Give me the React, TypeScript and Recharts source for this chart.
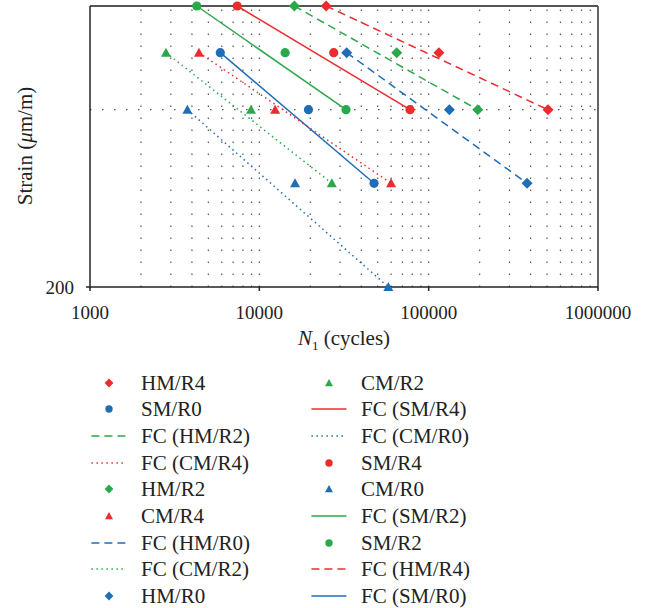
import React from "react";
import { ComposedChart, Scatter, Line, XAxis, YAxis, ReferenceLine } from "recharts";

if (typeof document !== "undefined") document.body.style.margin = "0";

const RED = "#ec2b2e";
const GREEN = "#2ba84a";
const BLUE = "#1f6db5";
const FONT = "'Liberation Serif', 'Times New Roman', serif";

// x ticks / y ticks
const cycleTicks = [1000, 10000, 100000, 1000000];
const strainTicks = [200];
const gridCycles = [
  2000, 3000, 4000, 5000, 6000, 7000, 8000, 9000, 10000,
  20000, 30000, 40000, 50000, 60000, 70000, 80000, 90000, 100000,
  200000, 300000, 400000, 500000, 600000, 700000, 800000, 900000,
];

// measured points (N1 cycles, strain)
const hmR4 = [{ n: 24800, s: 600 }, { n: 115000, s: 500 }, { n: 507000, s: 400 }];
const hmR2 = [{ n: 16100, s: 600 }, { n: 64800, s: 500 }, { n: 195000, s: 400 }];
const hmR0 = [{ n: 32800, s: 500 }, { n: 132500, s: 400 }, { n: 381000, s: 300 }];
const smR4 = [{ n: 7400, s: 600 }, { n: 27500, s: 500 }, { n: 77600, s: 400 }];
const smR2 = [{ n: 4270, s: 600 }, { n: 14200, s: 500 }, { n: 32500, s: 400 }];
const smR0 = [{ n: 5880, s: 500 }, { n: 19500, s: 400 }, { n: 47600, s: 300 }];
const cmR4 = [{ n: 4400, s: 500 }, { n: 12400, s: 400 }, { n: 60000, s: 300 }];
const cmR2 = [{ n: 2810, s: 500 }, { n: 8930, s: 400 }, { n: 26800, s: 300 }];
const cmR0 = [{ n: 3760, s: 400 }, { n: 16250, s: 300 }, { n: 57800, s: 200 }];

const ends = (d: { n: number; s: number }[]) => [d[0], d[d.length - 1]];

const markerPath = (kind: string, cx: number, cy: number, k: number) => {
  if (kind === "diamond") return `M${cx} ${cy - 5.5 * k}L${cx + 5.5 * k} ${cy}L${cx} ${cy + 5.5 * k}L${cx - 5.5 * k} ${cy}Z`;
  if (kind === "triangle") return `M${cx} ${cy - 5 * k}L${cx + 5 * k} ${cy + 4 * k}L${cx - 5 * k} ${cy + 4 * k}Z`;
  return "";
};

const Marker = ({ kind, color, cx, cy, k = 1 }: any) => {
  if (cx == null || cy == null) return <g />;
  if (kind === "circle") return <circle cx={cx} cy={cy} r={4.6 * k} fill={color} />;
  return <path d={markerPath(kind, cx, cy, k)} fill={color} />;
};

const points = [
  { data: hmR4, kind: "diamond", color: RED },
  { data: hmR2, kind: "diamond", color: GREEN },
  { data: hmR0, kind: "diamond", color: BLUE },
  { data: smR4, kind: "circle", color: RED },
  { data: smR2, kind: "circle", color: GREEN },
  { data: smR0, kind: "circle", color: BLUE },
  { data: cmR4, kind: "triangle", color: RED },
  { data: cmR2, kind: "triangle", color: GREEN },
  { data: cmR0, kind: "triangle", color: BLUE },
];

const DASH = "8 5";
const DOT = "1.5 3.5";

const fits = [
  { data: ends(hmR4), color: RED, dash: DASH },
  { data: ends(hmR2), color: GREEN, dash: DASH },
  { data: ends(hmR0), color: BLUE, dash: DASH },
  { data: ends(smR4), color: RED, dash: undefined },
  { data: ends(smR2), color: GREEN, dash: undefined },
  { data: ends(smR0), color: BLUE, dash: undefined },
  { data: ends(cmR4), color: RED, dash: DOT },
  { data: ends(cmR2), color: GREEN, dash: DOT },
  { data: ends(cmR0), color: BLUE, dash: DOT },
];

const legendLeft = [
  { label: "HM/R4", kind: "diamond", color: RED },
  { label: "SM/R0", kind: "circle", color: BLUE },
  { label: "FC (HM/R2)", line: DASH, color: GREEN },
  { label: "FC (CM/R4)", line: DOT, color: RED },
  { label: "HM/R2", kind: "diamond", color: GREEN },
  { label: "CM/R4", kind: "triangle", color: RED },
  { label: "FC (HM/R0)", line: DASH, color: BLUE },
  { label: "FC (CM/R2)", line: DOT, color: GREEN },
  { label: "HM/R0", kind: "diamond", color: BLUE },
];
const legendRight = [
  { label: "CM/R2", kind: "triangle", color: GREEN },
  { label: "FC (SM/R4)", line: "solid", color: RED },
  { label: "FC (CM/R0)", line: DOT, color: BLUE },
  { label: "SM/R4", kind: "circle", color: RED },
  { label: "CM/R0", kind: "triangle", color: BLUE },
  { label: "FC (SM/R2)", line: "solid", color: GREEN },
  { label: "SM/R2", kind: "circle", color: GREEN },
  { label: "FC (HM/R4)", line: DASH, color: RED },
  { label: "FC (SM/R0)", line: "solid", color: BLUE },
];

const LegendColumn = ({ items, left }: { items: any[]; left: number }) => (
  <>
    {items.map((it, i) => {
      const cy = 382.5 + i * 26.7;
      return (
        <React.Fragment key={it.label}>
          <svg style={{ position: "absolute", left: left - 20, top: cy - 8 }} width={40} height={16}>
            {it.line ? (
              <line x1={2.4} x2={37.4} y1={8} y2={8} stroke={it.color} strokeWidth={1.6}
                strokeDasharray={it.line === "solid" ? undefined : it.line} />
            ) : (
              <Marker kind={it.kind} color={it.color} cx={20} cy={8} k={0.8} />
            )}
          </svg>
          <div style={{ position: "absolute", left: left + 31.7, top: cy - 13, fontSize: 21, lineHeight: "26px", color: "#222", whiteSpace: "nowrap" }}>
            {it.label}
          </div>
        </React.Fragment>
      );
    })}
  </>
);

export default function App() {
  return (
    <div style={{ position: "relative", width: 651, height: 608, overflow: "hidden", fontFamily: FONT, background: "#fff" }}>
      <ComposedChart width={651} height={360} margin={{ top: 6, right: 53, bottom: 0, left: 0 }}>
        <XAxis
          type="number" dataKey="n" scale="log" domain={[1000, 1000000]}
          ticks={cycleTicks} interval={0} height={73} tickSize={4} tickMargin={15}
          axisLine={{ stroke: "#222", strokeWidth: 1.5 }} tickLine={{ stroke: "#222", strokeWidth: 1.5 }}
          tick={{ fill: "#222", fontSize: 19, fontFamily: FONT }}
        />
        <YAxis
          type="number" dataKey="s" scale="log" domain={[200, 600]}
          ticks={strainTicks} interval={0} width={90} tickSize={4} tickMargin={12}
          axisLine={{ stroke: "#222", strokeWidth: 1.5 }} tickLine={{ stroke: "#222", strokeWidth: 1.5 }}
          tick={{ fill: "#222", fontSize: 19, fontFamily: FONT }}
        />
        {gridCycles.map((v) => (
          <ReferenceLine key={v} x={v} stroke="#555" strokeWidth={1.2} strokeDasharray="1.5 10.5" />
        ))}
        <ReferenceLine y={400} stroke="#555" strokeWidth={1.2} strokeDasharray="1.5 10.5" />
        <ReferenceLine y={600} stroke="#555" strokeWidth={1.8} ifOverflow="visible" />
        <ReferenceLine x={1000000} stroke="#555" strokeWidth={1.8} ifOverflow="visible" />
        {fits.map((f, i) => (
          <Line key={"fit" + i} data={f.data} dataKey="s" type="linear" stroke={f.color} strokeWidth={1.5}
            strokeDasharray={f.dash} dot={false} activeDot={false} isAnimationActive={false} legendType="none" />
        ))}
        {points.map((p, i) => (
          <Scatter key={"pt" + i} data={p.data} dataKey="s" isAnimationActive={false}
            shape={(props: any) => <Marker kind={p.kind} color={p.color} cx={props.cx} cy={props.cy} />} />
        ))}
      </ComposedChart>
      <div style={{ position: "absolute", left: 25, top: 146, transform: "translate(-50%, -50%) rotate(-90deg)", fontSize: 21, whiteSpace: "nowrap", color: "#222" }}>
        Strain (<i>μ</i>m/m)
      </div>
      <div style={{ position: "absolute", left: 344, top: 326, transform: "translateX(-50%)", fontSize: 21, whiteSpace: "nowrap", color: "#222" }}>
        <i>N</i><sub style={{ fontSize: 13 }}>1</sub> (cycles)
      </div>
      <LegendColumn items={legendLeft} left={109.3} />
      <LegendColumn items={legendRight} left={329.3} />
    </div>
  );
}
